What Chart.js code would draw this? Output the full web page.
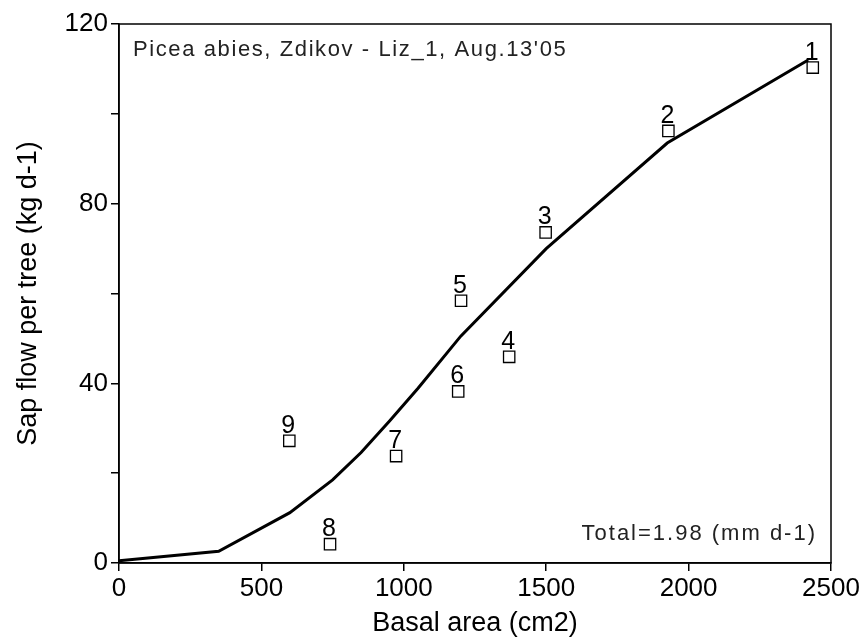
<!DOCTYPE html>
<html>
<head>
<title>Sap flow vs basal area</title>
<script src="https://cdn.jsdelivr.net/npm/chart.js@4"></script>
<style>
    body { margin: 0; background: #fff; }
    #wrap { width: 866px; height: 640px; }
</style>
</head>
<body>
<div id="wrap"><canvas id="chart"></canvas></div>
<script>
    // measured trees
    const treeIds = ['1', '2', '3', '4', '5', '6', '7', '8', '9']
    const basalArea = [2436, 1929, 1498, 1370, 1201, 1191, 973, 741, 598]
    const sapFlow = [110.3, 96.2, 73.6, 45.9, 58.4, 38.2, 23.8, 4.2, 27.2]

    // fitted curve
    const fitArea = [0, 350, 600, 750, 850, 950, 1050, 1200, 1500, 1925, 2420]
    const fitFlow = [0.5, 2.6, 11.2, 18.5, 24.6, 31.6, 38.9, 50.5, 70, 93.5, 112]

    const yLabels = [0, 40, 80, 120]
    const site = "Picea abies, Zdikov - Liz_1, Aug.13'05"
    const total = 'Total=1.98 (mm d-1)'

    const FONT = '"Liberation Sans", Arial, Helvetica, sans-serif'

    const notes = {
        id: 'notes',
        afterDatasetsDraw(chart) {
            const { ctx, chartArea: a, scales } = chart
            ctx.save()
            // frame round the plot
            ctx.strokeStyle = '#000'
            ctx.lineWidth = 1.5
            ctx.strokeRect(a.left, a.top, a.right - a.left, a.bottom - a.top)

            // tree numbers above the squares
            ctx.fillStyle = '#000'
            ctx.font = '25px ' + FONT
            ctx.textAlign = 'center'
            ctx.textBaseline = 'alphabetic'
            basalArea.forEach((v, i) => {
                const x = scales.x.getPixelForValue(v)
                const y = scales.y.getPixelForValue(sapFlow[i])
                ctx.fillText(treeIds[i], x - 1, y - 8)
            })

            ctx.font = '22px ' + FONT
            ctx.fillStyle = '#222'
            ctx.letterSpacing = '1.6px'
            ctx.textAlign = 'left'
            ctx.textBaseline = 'alphabetic'
            ctx.fillText(site, a.left + 14, a.top + 32)
            ctx.letterSpacing = '2px'
            ctx.textAlign = 'right'
            ctx.fillText(total, a.right - 14, a.bottom - 23)
            ctx.restore()
        },
    }

    new Chart('chart', {
        type: 'scatter',
        data: {
            datasets: [
                {
                    data: fitArea.map((x, i) => ({ x, y: fitFlow[i] })),
                    showLine: true,
                    borderColor: '#000',
                    borderWidth: 3,
                    pointRadius: 0,
                    tension: 0,
                },
                {
                    data: basalArea.map((x, i) => ({ x, y: sapFlow[i] })),
                    pointStyle: 'rect',
                    pointRadius: 8,
                    pointBorderWidth: 1.3,
                    pointBorderColor: '#000',
                    pointBackgroundColor: '#fff',
                },
            ],
        },
        options: {
            responsive: true,
            maintainAspectRatio: false,
            animation: false,
            layout: { padding: { top: 24, right: 35, left: 0, bottom: 0 } },
            plugins: {
                legend: { display: false },
                tooltip: { enabled: false },
            },
            scales: {
                x: {
                    type: 'linear',
                    min: 0,
                    max: 2500,
                    afterFit: s => { s.height = 77 },
                    grid: { drawOnChartArea: false, drawTicks: true, tickLength: 8, color: '#000', lineWidth: 1.5 },
                    border: { color: '#000', width: 1.5 },
                    ticks: {
                        stepSize: 500,
                        color: '#000',
                        padding: 2,
                        maxRotation: 0,
                        font: { family: FONT, size: 26 },
                        callback: v => String(v),
                    },
                    title: {
                        display: true,
                        text: 'Basal area (cm2)',
                        color: '#000',
                        font: { family: FONT, size: 27 },
                        padding: { top: 0, bottom: 0 },
                    },
                },
                y: {
                    min: 0,
                    max: 120,
                    afterFit: s => { s.width = 119 },
                    grid: { drawOnChartArea: false, drawTicks: true, tickLength: 8, color: '#000', lineWidth: 1.5 },
                    border: { color: '#000', width: 1.5 },
                    ticks: {
                        stepSize: 20,
                        color: '#000',
                        padding: 3,
                        font: { family: FONT, size: 26 },
                        callback: v => (yLabels.includes(v) ? String(v) : ''),
                    },
                    title: {
                        display: true,
                        text: 'Sap flow per tree (kg d-1)',
                        color: '#000',
                        font: { family: FONT, size: 27 },
                        padding: { top: 12, bottom: 0 },
                    },
                },
            },
        },
        plugins: [notes],
    })
</script>
</body>
</html>
